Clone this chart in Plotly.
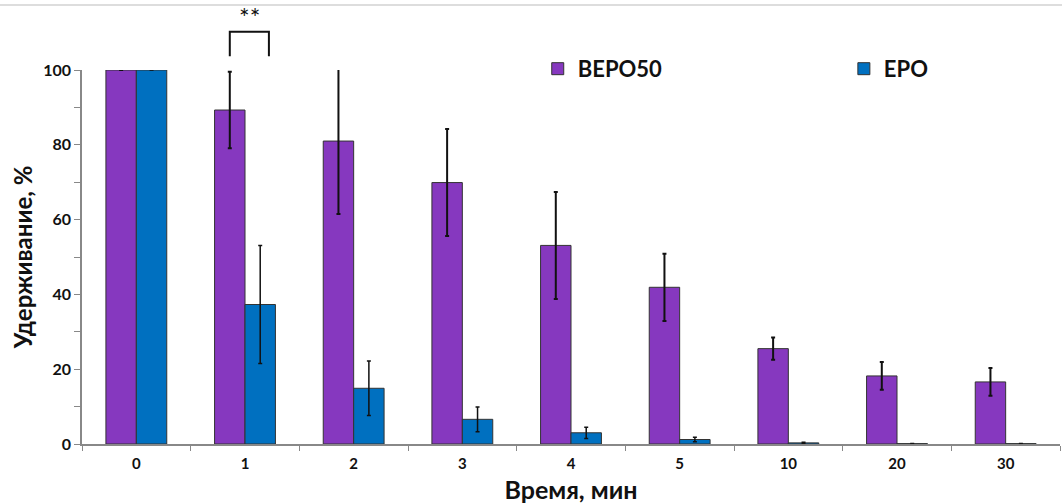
import plotly.graph_objects as go

categories = ["0", "1", "2", "3", "4", "5", "10", "20", "30"]
bepo50 = [100, 89.3, 81.0, 69.9, 53.1, 41.9, 25.5, 18.2, 16.6]
bepo50_err = [None, 10.2, 19.5, 14.3, 14.3, 9.0, 3.0, 3.7, 3.7]
epo = [100, 37.3, 14.9, 6.6, 3.0, 1.2, 0.3, 0.1, 0.1]
epo_err = [None, 15.8, 7.3, 3.3, 1.5, 0.6, 0.15, 0.05, 0.05]

FONT = "Lato, 'Open Sans', sans-serif"
PURPLE = "#8638BF"
BLUE = "#0070C0"

fig = go.Figure()
fig.add_trace(go.Bar(
    x=categories, y=bepo50, name="BEPO50", legend="legend",
    marker=dict(color=PURPLE, line=dict(color="#333333", width=1)),
    error_y=dict(type="data", array=bepo50_err, visible=True, color="#111111", thickness=2, width=2),
))
fig.add_trace(go.Bar(
    x=categories, y=epo, name="EPO", legend="legend2",
    marker=dict(color=BLUE, line=dict(color="#333333", width=1)),
    error_y=dict(type="data", array=epo_err, visible=True, color="#111111", thickness=1.5, width=2),
))

# significance bracket
fig.add_shape(type="path", xref="x", yref="paper",
              path="M 0.86,1.037 L 0.86,1.102 L 1.22,1.102 L 1.22,1.037",
              line=dict(color="#111111", width=2))
fig.add_annotation(x=1.04, y=1.095, xref="x", yref="paper", yanchor="bottom", text="**",
                   showarrow=False, font=dict(family=FONT, size=25, color="#111111"))

# top border line
fig.add_shape(type="line", xref="paper", yref="paper", x0=-0.1, x1=1.01, y0=1.174, y1=1.174,
              line=dict(color="#DDDDDD", width=2))

legend_common = dict(orientation="h", y=1.003, xanchor="left", yanchor="middle",
                     font=dict(family=FONT, size=22, color="#111111", weight="bold"),
                     bgcolor="rgba(0,0,0,0)")

fig.update_layout(
    width=1062, height=504,
    margin=dict(l=82, r=2, t=70, b=60),
    paper_bgcolor="white", plot_bgcolor="white",
    barmode="group", bargap=0.44, bargroupgap=0,
    font=dict(family=FONT, color="#111111"),
    legend=dict(x=0.466, **legend_common),
    legend2=dict(x=0.779, **legend_common),
    showlegend=True,
)
fig.update_xaxes(
    type="category", showline=True, linecolor="#888888", linewidth=1.5,
    ticks="outside", tickson="boundaries", ticklen=5, tickcolor="#888888",
    ticklabelstandoff=5,
    tickfont=dict(family=FONT, size=15, color="#111111", weight="bold"),
    title=dict(text="Время, мин", font=dict(family=FONT, size=25, color="#111111", weight="bold"), standoff=13),
    showgrid=False, zeroline=False, automargin=False,
)
fig.update_yaxes(
    range=[0, 100], dtick=20, showline=True, linecolor="#888888", linewidth=1.5,
    ticks="outside", ticklen=6, tickcolor="#888888",
    minor=dict(dtick=10, ticks="outside", ticklen=6, tickcolor="#888888"),
    tickfont=dict(family=FONT, size=16, color="#111111", weight="bold"),
    title=dict(text="Удерживание, %", font=dict(family=FONT, size=24, color="#111111", weight="bold"), standoff=4),
    showgrid=False, zeroline=False, automargin=False,
)
for tr in fig.data:
    tr.cliponaxis = False

fig.write_html("out.html", config={"displayModeBar": False},
               post_script="document.body.style.margin='0';")
